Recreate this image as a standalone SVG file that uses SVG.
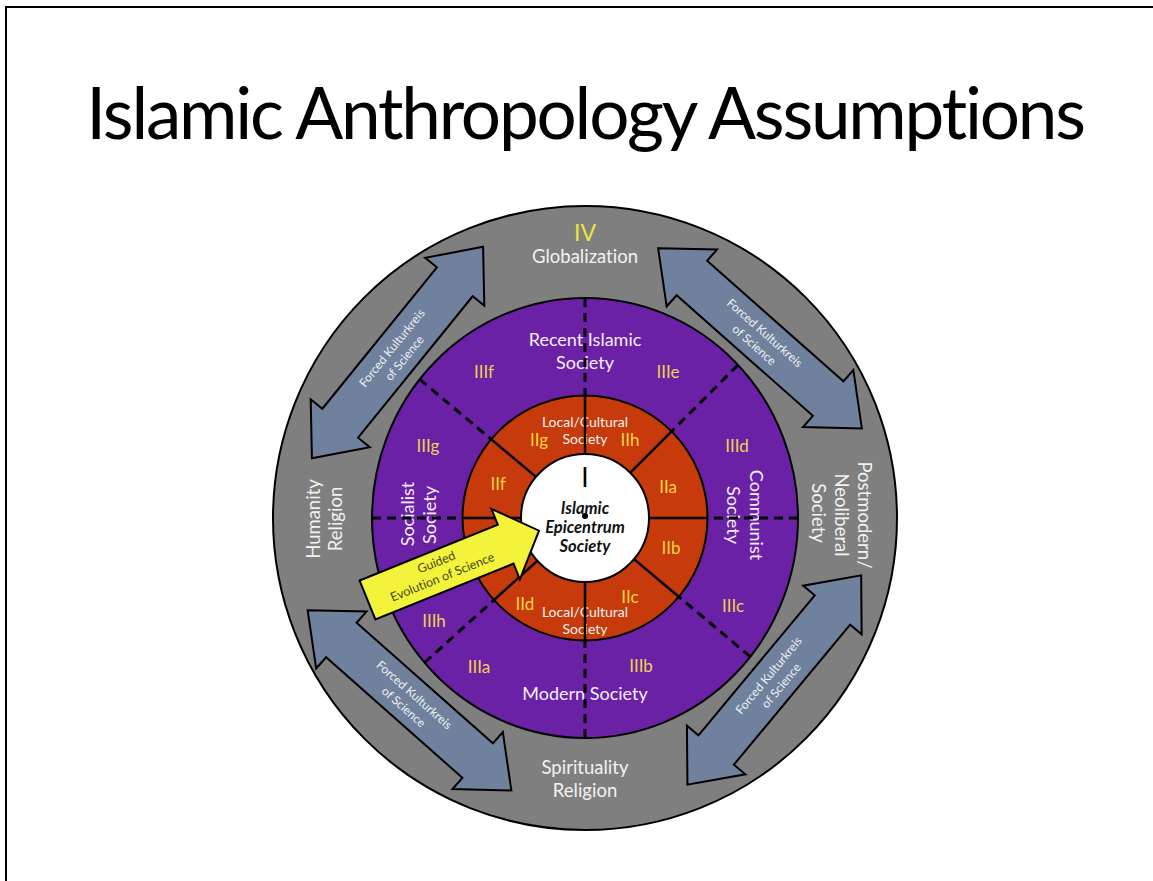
<svg xmlns="http://www.w3.org/2000/svg" width="1153" height="881" viewBox="0 0 1153 881">
<style>
text{font-variant-ligatures:none}
.lbl{font-family:Lato,"Liberation Sans",sans-serif;fill:#f2f2f2;text-anchor:middle}
.plbl{font-family:Lato,"Liberation Sans",sans-serif;fill:#f4eefa;text-anchor:middle;font-size:18px}
.num{font-family:Lato,"Liberation Sans",sans-serif;fill:#f2d24a;text-anchor:middle;font-size:17px}
.rnum{font-family:Lato,"Liberation Sans",sans-serif;fill:#f5d444;text-anchor:middle;font-size:17px}
.small{font-family:Lato,"Liberation Sans",sans-serif;fill:#fbf4ee;text-anchor:middle;font-size:14px}
.arr{fill:#6f819c;stroke:#000;stroke-width:2;stroke-linejoin:miter}
.arrtxt{font-family:Lato,"Liberation Sans",sans-serif;fill:#eef0f4;text-anchor:middle;font-size:12px}
.dash{stroke:#000;stroke-width:3;stroke-dasharray:9 6;fill:none}
.solid{stroke:#000;stroke-width:2.5;fill:none}
</style>
<defs>
<path id="dbl" d="M-136,0 L-91,-38 L-91,-23 L91,-23 L91,-38 L136,0 L91,38 L91,23 L-91,23 L-91,38 Z"/>
</defs>
<rect x="0" y="0" width="1153" height="881" fill="#fff"/>
<path d="M6,881 V7 H1153" fill="none" stroke="#000" stroke-width="2"/>
<text x="585" y="139" font-family="Lato,'Liberation Sans',sans-serif" font-size="71" letter-spacing="-2.2" fill="#000" text-anchor="middle">Islamic Anthropology Assumptions</text>

<g id="outer-ring">
<circle cx="585" cy="518" r="312" fill="#7f7f7f" stroke="#000" stroke-width="2"/>
<text class="lbl" x="585" y="241" font-size="23" style="fill:#e9e63c">IV</text>
<text class="lbl" x="585" y="263" font-size="18.5">Globalization</text>
<text class="lbl" x="585" y="774" font-size="18.5">Spirituality</text>
<text class="lbl" x="585" y="797" font-size="18.5">Religion</text>
<text class="lbl" font-size="18.5" transform="translate(320,519) rotate(-90)">Humanity</text>
<text class="lbl" font-size="18.5" transform="translate(342,519) rotate(-90)">Religion</text>
<text class="lbl" font-size="18.5" transform="translate(858,515) rotate(90)">Postmodern/</text>
<text class="lbl" font-size="18.5" transform="translate(835,515) rotate(90)">Neoliberal</text>
<text class="lbl" font-size="18.5" transform="translate(812,513) rotate(90)">Society</text>
</g>

<g id="purple-ring">
<ellipse cx="585" cy="518" rx="213" ry="220" fill="#6a21a6" stroke="#000" stroke-width="2"/>
<text class="plbl" x="585" y="346">Recent Islamic</text>
<text class="plbl" x="585" y="369">Society</text>
<text class="plbl" x="585" y="700">Modern Society</text>
<text class="plbl" transform="translate(414,514) rotate(-90)">Socialist</text>
<text class="plbl" transform="translate(436,515) rotate(-90)">Society</text>
<text class="plbl" transform="translate(750,515) rotate(90)">Communist</text>
<text class="plbl" transform="translate(727,515) rotate(90)">Society</text>
<text class="num" x="484" y="378">IIIf</text>
<text class="num" x="668" y="378">IIIe</text>
<text class="num" x="428" y="452">IIIg</text>
<text class="num" x="737" y="452">IIId</text>
<text class="num" x="434" y="627">IIIh</text>
<text class="num" x="733" y="612">IIIc</text>
<text class="num" x="479" y="673">IIIa</text>
<text class="num" x="641" y="672">IIIb</text>
</g>

<g id="red-ring">
<circle cx="585" cy="518" r="122.5" fill="#c63a0b" stroke="#000" stroke-width="2"/>
<text class="small" x="585" y="427">Local/Cultural</text>
<text class="small" x="585" y="444">Society</text>
<text class="small" x="585" y="617">Local/Cultural</text>
<text class="small" x="585" y="634">Society</text>
<text class="rnum" x="539" y="446">IIg</text>
<text class="rnum" x="630" y="446">IIh</text>
<text class="rnum" x="498" y="490">IIf</text>
<text class="rnum" x="668" y="493">IIa</text>
<text class="rnum" x="671" y="554">IIb</text>
<text class="rnum" x="630" y="603">IIc</text>
<text class="rnum" x="525" y="610">IId</text>
</g>

<g id="dividers">
<line class="dash" x1="585" y1="298" x2="585" y2="395.5"/>
<line class="dash" x1="585" y1="738" x2="585" y2="640.5"/>
<line class="dash" x1="798" y1="518" x2="707.5" y2="518"/>
<line class="dash" x1="372" y1="518" x2="462.5" y2="518"/>
<line class="dash" x1="738" y1="365" x2="671.6" y2="431.4"/>
<line class="dash" x1="750.3" y1="656.7" x2="678.8" y2="596.7"/>
<line class="dash" x1="424.5" y1="662.6" x2="494" y2="600"/>
<line class="dash" x1="419.7" y1="379.3" x2="491.2" y2="439.3"/>
<line class="solid" x1="585" y1="395.5" x2="585" y2="454"/>
<line class="solid" x1="585" y1="640.5" x2="585" y2="582"/>
<line class="solid" x1="707.5" y1="518" x2="649" y2="518"/>
<line class="solid" x1="462.5" y1="518" x2="521" y2="518"/>
<line class="solid" x1="671.6" y1="431.4" x2="630.3" y2="472.7"/>
<line class="solid" x1="678.8" y1="596.7" x2="634" y2="559.1"/>
<line class="solid" x1="494" y1="600" x2="537.4" y2="560.8"/>
<line class="solid" x1="491.2" y1="439.3" x2="536" y2="476.9"/>
</g>

<g id="center">
<circle cx="585" cy="518" r="64" fill="#fff" stroke="#000" stroke-width="2"/>
<text x="585" y="487" font-family="Lato,'Liberation Sans',sans-serif" font-size="26" fill="#000" text-anchor="middle">I</text>
<circle cx="585" cy="516" r="3" fill="#000"/>
<g font-family="Lato,'Liberation Sans',sans-serif" font-size="16.5" font-weight="bold" font-style="italic" fill="#111" text-anchor="middle">
<text x="585" y="514">Islamic</text>
<text x="585" y="533">Epicentrum</text>
<text x="585" y="552">Society</text>
</g>
</g>

<g id="connectors">
<g transform="translate(397.5,352.5) rotate(-51)">
<use href="#dbl" class="arr"/>
<text class="arrtxt" x="0" y="-3">Forced Kulturkreis</text>
<text class="arrtxt" x="0" y="13">of Science</text>
</g>
<g transform="translate(760,338.3) rotate(41.5)">
<use href="#dbl" class="arr"/>
<text class="arrtxt" x="0" y="-3">Forced Kulturkreis</text>
<text class="arrtxt" x="0" y="13">of Science</text>
</g>
<g transform="translate(409.5,700.3) rotate(41.5)">
<use href="#dbl" class="arr"/>
<text class="arrtxt" x="0" y="-3">Forced Kulturkreis</text>
<text class="arrtxt" x="0" y="13">of Science</text>
</g>
<g transform="translate(774.3,680) rotate(-50.3)">
<use href="#dbl" class="arr"/>
<text class="arrtxt" x="0" y="-3">Forced Kulturkreis</text>
<text class="arrtxt" x="0" y="13">of Science</text>
</g>
<g id="guided-arrow" transform="translate(367.5,600) rotate(-22)">
<path d="M0,-21 L149,-21 L149,-38 L185,0 L149,38 L149,21 L0,21 Z" fill="#f3f33c" stroke="#000" stroke-width="2"/>
<g font-family="Lato,'Liberation Sans',sans-serif" font-size="12.5" fill="#454a14" text-anchor="middle">
<text x="78" y="-5">Guided</text>
<text x="78" y="11">Evolution of Science</text>
</g>
</g>
</g>
</svg>
